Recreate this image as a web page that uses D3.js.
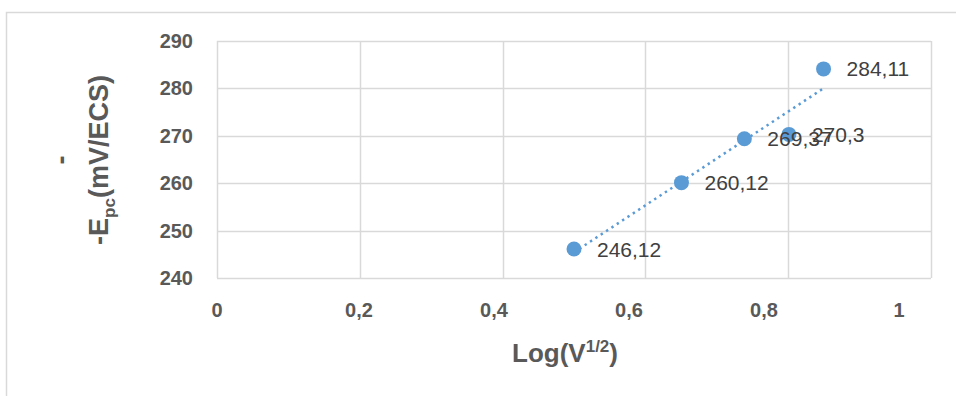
<!DOCTYPE html>
<html>
<head>
<meta charset="utf-8">
<script src="https://cdn.jsdelivr.net/npm/d3@7"></script>
<style>
  html, body { margin: 0; padding: 0; background: #fff; }
  svg { display: block; }
</style>
</head>
<body>
<div id="chart"></div>
<script>
// data
const xValues = [0.5, 0.6505, 0.7386, 0.801, 0.8495];
const yValues = [246.12, 260.12, 269.37, 270.3, 284.11];
const pointLabels = ["246,12", "260,12", "269,37", "270,3", "284,11"];
const xTicks = [0, 0.2, 0.4, 0.6, 0.8, 1];
const xTickLabels = ["0", "0,2", "0,4", "0,6", "0,8", "1"];
const yTicks = [240, 250, 260, 270, 280, 290];

const width = 956, height = 396;
const font = "'Liberation Sans', Arial, sans-serif";

const svg = d3.select("#chart").append("svg")
    .attr("width", width)
    .attr("height", height)
    .attr("font-family", font);

// outer chart border (clipped on right and bottom like the source)
svg.append("rect")
    .attr("x", 6.5).attr("y", 12.5)
    .attr("width", 1000).attr("height", 500)
    .attr("fill", "none")
    .attr("stroke", "#d9d9d9")
    .attr("stroke-width", 1.5);

const x = d3.scaleLinear().domain([0, 1]).range([217, 931]);
const y = d3.scaleLinear().domain([240, 290]).range([278, 41]);
// the source's tick labels drift left of their gridlines
const xLab = d3.scaleLinear().domain([0, 0.2, 1]).range([217, 359, 899]);

// gridlines
svg.append("g").selectAll("line")
    .data(yTicks)
    .join("line")
    .attr("x1", x(0)).attr("x2", x(1))
    .attr("y1", d => Math.round(y(d)) + 0.5).attr("y2", d => Math.round(y(d)) + 0.5)
    .attr("stroke", "#d9d9d9")
    .attr("stroke-width", 1.5);

svg.append("g").selectAll("line")
    .data(xTicks)
    .join("line")
    .attr("x1", d => Math.round(x(d)) + 0.5).attr("x2", d => Math.round(x(d)) + 0.5)
    .attr("y1", y(290)).attr("y2", y(240))
    .attr("stroke", "#d9d9d9")
    .attr("stroke-width", 1.5);

// tick labels
svg.append("g").selectAll("text")
    .data(yTicks)
    .join("text")
    .attr("x", 193)
    .attr("y", d => y(d))
    .attr("dy", "0.35em")
    .attr("text-anchor", "end")
    .attr("font-size", 20)
    .attr("font-weight", "bold")
    .attr("fill", "#595959")
    .text(d => d);

svg.append("g").selectAll("text")
    .data(xTicks)
    .join("text")
    .attr("x", d => xLab(d))
    .attr("y", 317)
    .attr("text-anchor", "middle")
    .attr("font-size", 20)
    .attr("font-weight", "bold")
    .attr("fill", "#595959")
    .text((d, i) => xTickLabels[i]);

// linear trendline (least squares)
const mx = d3.mean(xValues), my = d3.mean(yValues);
const sxy = d3.sum(xValues, (v, i) => (v - mx) * (yValues[i] - my));
const sxx = d3.sum(xValues, v => (v - mx) * (v - mx));
const slope = sxy / sxx, icpt = my - slope * mx;
const x0 = d3.min(xValues), x1 = d3.max(xValues);

svg.append("path")
    .datum([[x0, icpt + slope * x0], [x1, icpt + slope * x1]])
    .attr("d", d3.line().x(d => x(d[0])).y(d => y(d[1])))
    .attr("fill", "none")
    .attr("stroke", "#5b9bd5")
    .attr("stroke-width", 2.5)
    .attr("stroke-dasharray", "2.4,4");

// points
const pts = d3.range(xValues.length);
svg.append("g").selectAll("circle")
    .data(pts)
    .join("circle")
    .attr("cx", i => x(xValues[i]))
    .attr("cy", i => y(yValues[i]))
    .attr("r", 7.5)
    .attr("fill", "#5b9bd5");

// data labels
svg.append("g").selectAll("text")
    .data(pts)
    .join("text")
    .attr("x", i => x(xValues[i]) + 23)
    .attr("y", i => y(yValues[i]))
    .attr("dy", "0.36em")
    .attr("font-size", 21)
    .attr("fill", "#404040")
    .text(i => pointLabels[i]);

// axis titles
const xt = svg.append("text")
    .attr("x", 565)
    .attr("y", 362)
    .attr("text-anchor", "middle")
    .attr("font-size", 26)
    .attr("font-weight", "bold")
    .attr("fill", "#595959");
xt.append("tspan").text("Log(V");
xt.append("tspan").attr("font-size", 17).attr("dy", -10).text("1/2");
xt.append("tspan").attr("dy", 10).text(")");

const yt = svg.append("g")
    .attr("transform", "translate(0,160) rotate(-90)")
    .attr("font-size", 27)
    .attr("font-weight", "bold")
    .attr("fill", "#595959");
yt.append("text")
    .attr("x", 0).attr("y", 70)
    .attr("text-anchor", "middle")
    .text("-");
const yl = yt.append("text")
    .attr("x", 0).attr("y", 108)
    .attr("text-anchor", "middle");
yl.append("tspan").text("-E");
yl.append("tspan").attr("font-size", 17).attr("dy", 7).text("pc");
yl.append("tspan").attr("dy", -7).text("(mV/ECS)");
</script>
</body>
</html>
